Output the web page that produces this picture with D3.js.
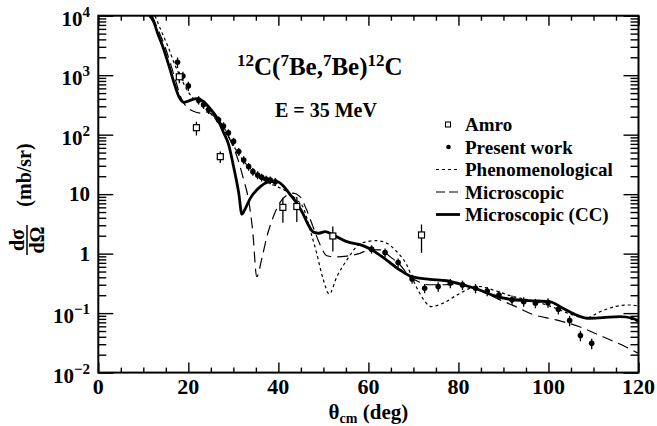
<!DOCTYPE html>
<html>
<head>
<meta charset="utf-8">
<script src="https://cdn.jsdelivr.net/npm/d3@7"></script>
<style>
  body { margin: 0; background: #fff; }
  svg { display: block; }
  text { font-family: "Liberation Serif", "Times New Roman", "DejaVu Serif", serif; font-weight: bold; fill: #000; }
</style>
</head>
<body>
<div id="chart"></div>
<script>
// --- Data ---
// Present work: [theta_cm, dsigma/dOmega, relative error]
const presentWork = [
  [17.6, 1650, 0.2], [18.8, 970, 0.18], [20.0, 660, 0.18], [22.3, 383, 0.16], [23.4, 322, 0.16],
  [24.5, 265, 0.16], [26.7, 177, 0.15], [27.8, 140, 0.15], [28.9, 107, 0.15], [30.05, 77, 0.15],
  [31.2, 52, 0.15], [32.3, 37.6, 0.15], [33.4, 29, 0.15], [34.35, 23.9, 0.15], [35.4, 21, 0.15],
  [36.3, 19.2, 0.15], [37.3, 17.8, 0.15], [38.2, 17.3, 0.15], [39.3, 16.2, 0.15],
  [60.7, 1.19, 0.16], [63.7, 1.04, 0.17], [66.6, 0.71, 0.17], [69.7, 0.376, 0.17], [72.5, 0.262, 0.18],
  [75.5, 0.279, 0.18], [78.2, 0.318, 0.18], [80.9, 0.298, 0.18], [83.8, 0.262, 0.18], [86.4, 0.234, 0.18],
  [89.0, 0.202, 0.18], [91.9, 0.167, 0.18], [94.5, 0.156, 0.18], [97.1, 0.147, 0.18], [99.9, 0.150, 0.18],
  [102.2, 0.116, 0.18], [104.7, 0.075, 0.2], [107.1, 0.042, 0.2], [109.6, 0.031, 0.2]
];

// Amro: [theta_cm, dsigma/dOmega, relative error]
const amro = [
  [18.0, 940, 0.22], [21.8, 131, 0.26], [27.1, 42.7, 0.22], [41.0, 6.0, 0.45],
  [44.1, 6.2, 0.45], [52.1, 1.98, 0.45], [71.8, 2.06, 0.5]
];

const phenomenological = [
  [12.6, 10000], [14, 5500], [15.5, 3000], [17, 1500], [18.5, 850], [20, 520], [21.5, 380], [23, 300],
  [24.5, 245], [26, 185], [27.5, 130], [29, 90], [30.8, 52], [32.3, 36], [33.75, 27], [35.2, 21],
  [36.7, 17.4], [38.2, 15], [39.7, 13.4], [41.9, 11], [44.1, 8], [45.6, 5.8], [47.05, 2.5], [48.5, 1.02],
  [50, 0.36], [51.3, 0.21], [53, 0.41], [55.2, 0.78], [57.4, 1.31], [59.6, 1.59], [61.8, 1.65], [64.05, 1.5],
  [66.3, 1.08], [68.5, 0.65], [69.95, 0.36], [71.4, 0.216], [74, 0.129], [76.6, 0.147], [79.6, 0.2],
  [82.5, 0.26], [84.7, 0.28], [87.7, 0.245], [90, 0.215], [92.1, 0.19], [95, 0.17], [98, 0.15],
  [100.5, 0.13], [102.5, 0.113], [105.4, 0.093], [108.4, 0.083], [111.4, 0.105], [115, 0.13],
  [118, 0.137], [120, 0.132]
];

const microscopic = [
  [12.0, 10000], [13, 6500], [14.5, 3500], [16, 1600], [17.2, 800], [18.3, 430], [19.5, 300], [21, 250],
  [22.7, 230], [24.3, 240], [25.8, 200], [27.8, 136], [29.3, 81], [30.8, 43], [32.3, 17.4], [33.4, 7.9],
  [34.3, 2.4], [35.2, 0.41], [36.35, 0.84], [37.45, 1.93], [38.9, 4.2], [40.5, 7.5], [41.9, 9.6],
  [43.3, 10.4], [44.8, 9.1], [46.3, 5.4], [47.8, 2.7], [49.3, 1.4], [50.75, 0.92], [52.5, 0.88],
  [55.2, 0.91], [58.1, 1.01], [60.35, 1.17], [62.6, 1.16], [64.8, 0.89], [67, 0.65], [69.2, 0.41],
  [71.4, 0.33], [73.65, 0.30], [77, 0.30], [80.3, 0.31], [83, 0.27], [86.2, 0.216], [89, 0.17],
  [92.1, 0.135], [96.5, 0.095], [101.7, 0.077], [106.9, 0.059], [112.1, 0.040], [117.2, 0.027], [120, 0.021]
];

const microscopicCC = [
  [11.4, 10000], [12.3, 7900], [13.2, 5000], [14.2, 3220], [15.65, 1480], [16.75, 776], [17.9, 435],
  [19, 350], [20.1, 370], [21.9, 405], [23.4, 360], [24.9, 270], [26.4, 190], [27.8, 110], [28.95, 68],
  [30.05, 29], [31.2, 10.4], [31.9, 4.6], [32.6, 5.6], [33.75, 8.5], [36, 13.4], [38.2, 16.2], [39.7, 16.2],
  [41, 14], [42.4, 10.3], [44, 7.2], [45.4, 4.8], [46.5, 3.2], [47.8, 2.3], [49, 2.2], [50.4, 2.35],
  [52.2, 2.06], [55.2, 1.59], [58.9, 1.35], [60.4, 1.2], [64.05, 0.78], [67, 0.53], [69.6, 0.41],
  [73.65, 0.37], [77.35, 0.35], [81, 0.30], [84.7, 0.245], [87, 0.208], [91.4, 0.171], [95.8, 0.162],
  [100.2, 0.156], [103.2, 0.121], [106.2, 0.093], [108.7, 0.082], [112.1, 0.084], [115.8, 0.087],
  [118.7, 0.082], [120, 0.072]
];

const xMajorTicks = [0, 20, 40, 60, 80, 100, 120];
const yDecades = [1e-2, 1e-1, 1, 10, 1e2, 1e3, 1e4];
// label text: [base, exponent] (exponent '' = plain)
const yTickLabels = [['10', '\u22122'], ['10', '\u22121'], ['1', ''], ['10', ''], ['10', '2'], ['10', '3'], ['10', '4']];

const legendItems = [
  { label: 'Amro', type: 'square' },
  { label: 'Present work', type: 'dot' },
  { label: 'Phenomenological', type: 'line', dash: '3,3', width: 1.2 },
  { label: 'Microscopic', type: 'line', dash: '9,4', width: 1.2 },
  { label: 'Microscopic (CC)', type: 'line', dash: null, width: 2.8 }
];

// --- Setup ---
const W = 657, H = 426;
const plot = { left: 98.3, right: 638.5, top: 15.7, bottom: 372.6 };
const FONT = '"Liberation Serif", "Times New Roman", "DejaVu Serif", serif';

const svg = d3.select('#chart').append('svg')
  .attr('width', W)
  .attr('height', H)
  .attr('font-family', FONT)
  .attr('font-weight', 'bold');

const x = d3.scaleLinear().domain([0, 120]).range([plot.left, plot.right]);
const y = d3.scaleLog().domain([1e-2, 1e4]).range([plot.bottom, plot.top]);

svg.append('clipPath').attr('id', 'clip')
  .append('rect')
  .attr('x', plot.left).attr('y', plot.top)
  .attr('width', plot.right - plot.left).attr('height', plot.bottom - plot.top);

// --- Axes (ticks inward on all four sides) ---
const xMinor = d3.range(0, 121, 5).filter(v => v % 20 !== 0);
const yMinor = [];
for (let e = -2; e < 4; e++) for (let m = 2; m <= 9; m++) yMinor.push(m * Math.pow(10, e));

function styleAxis(sel) {
  sel.select('.domain').remove();
  sel.selectAll('line').attr('stroke', '#000').attr('stroke-width', 1.4);
  sel.selectAll('text').remove();
}

svg.append('g').attr('transform', `translate(0,${plot.bottom})`)
  .call(d3.axisBottom(x).tickValues(xMajorTicks).tickSizeInner(-10).tickSizeOuter(0)).call(styleAxis);
svg.append('g').attr('transform', `translate(0,${plot.bottom})`)
  .call(d3.axisBottom(x).tickValues(xMinor).tickSizeInner(-5).tickSizeOuter(0)).call(styleAxis);
svg.append('g').attr('transform', `translate(0,${plot.top})`)
  .call(d3.axisTop(x).tickValues(xMajorTicks).tickSizeInner(-10).tickSizeOuter(0)).call(styleAxis);
svg.append('g').attr('transform', `translate(0,${plot.top})`)
  .call(d3.axisTop(x).tickValues(xMinor).tickSizeInner(-5).tickSizeOuter(0)).call(styleAxis);

svg.append('g').attr('transform', `translate(${plot.left},0)`)
  .call(d3.axisLeft(y).tickValues(yDecades).tickSizeInner(-15).tickSizeOuter(0)).call(styleAxis);
svg.append('g').attr('transform', `translate(${plot.left},0)`)
  .call(d3.axisLeft(y).tickValues(yMinor).tickSizeInner(-8).tickSizeOuter(0)).call(styleAxis);
svg.append('g').attr('transform', `translate(${plot.right},0)`)
  .call(d3.axisRight(y).tickValues(yDecades).tickSizeInner(-15).tickSizeOuter(0)).call(styleAxis);
svg.append('g').attr('transform', `translate(${plot.right},0)`)
  .call(d3.axisRight(y).tickValues(yMinor).tickSizeInner(-8).tickSizeOuter(0)).call(styleAxis);

// frame
svg.append('rect')
  .attr('x', plot.left).attr('y', plot.top)
  .attr('width', plot.right - plot.left).attr('height', plot.bottom - plot.top)
  .attr('fill', 'none').attr('stroke', '#000').attr('stroke-width', 2);

// tick labels
svg.append('g').selectAll('text')
  .data(xMajorTicks)
  .join('text')
  .attr('x', d => x(d))
  .attr('y', 394)
  .attr('text-anchor', 'middle')
  .style('font-size', '22px')
  .text(d => d);

const yLabelData = yDecades.map((v, i) => ({ v, base: yTickLabels[i][0], exp: yTickLabels[i][1] }));
const yLab = svg.append('g').selectAll('text')
  .data(yLabelData)
  .join('text')
  .attr('x', 90)
  .attr('y', d => y(d.v) + (d.exp ? 10 : 7))
  .attr('text-anchor', 'end')
  .style('font-size', '21px');
yLab.append('tspan').text(d => d.base);
yLab.filter(d => d.exp !== '')
  .append('tspan')
  .attr('dy', -9)
  .style('font-size', '15px')
  .text(d => d.exp);

// axis titles
const xt = svg.append('text')
  .attr('x', (plot.left + plot.right) / 2)
  .attr('y', 419)
  .attr('text-anchor', 'middle')
  .style('font-size', '21px');
xt.append('tspan').text('\u03b8');
xt.append('tspan').attr('dy', 4).style('font-size', '14px').text('cm');
xt.append('tspan').attr('dy', -4).text(' (deg)');

const yt = svg.append('g').attr('transform', 'translate(27,240) rotate(-90)');
yt.append('text').attr('x', 0).attr('y', -3).attr('text-anchor', 'middle').style('font-size', '20px').text('d\u03c3');
yt.append('line').attr('x1', -15).attr('x2', 15).attr('y1', 0).attr('y2', 0).attr('stroke', '#000').attr('stroke-width', 1.5);
yt.append('text').attr('x', 0).attr('y', 17).attr('text-anchor', 'middle').style('font-size', '20px').text('d\u03a9');
yt.append('text').attr('x', 65).attr('y', 4).attr('text-anchor', 'middle').style('font-size', '20px').text('(mb/sr)');

// --- Curves ---
const line = d3.line()
  .x(d => x(d[0]))
  .y(d => y(d[1]))
  .curve(d3.curveMonotoneX);

const curves = svg.append('g').attr('clip-path', 'url(#clip)');
curves.append('path').datum(phenomenological)
  .attr('d', line).attr('fill', 'none').attr('stroke', '#000')
  .attr('stroke-width', 1.2).attr('stroke-dasharray', '3,3');
curves.append('path').datum(microscopic)
  .attr('d', line).attr('fill', 'none').attr('stroke', '#000')
  .attr('stroke-width', 1.2).attr('stroke-dasharray', '11,6');
curves.append('path').datum(microscopicCC)
  .attr('d', line).attr('fill', 'none').attr('stroke', '#000')
  .attr('stroke-width', 2.8);

// --- Data points ---
const pts = svg.append('g');
pts.selectAll('.pw-err')
  .data(presentWork)
  .join('line')
  .attr('class', 'pw-err')
  .attr('x1', d => x(d[0])).attr('x2', d => x(d[0]))
  .attr('y1', d => y(d[1] * (1 + d[2]))).attr('y2', d => y(d[1] * (1 - d[2])))
  .attr('stroke', '#000').attr('stroke-width', 1.3);
pts.selectAll('.pw')
  .data(presentWork)
  .join('circle')
  .attr('class', 'pw')
  .attr('cx', d => x(d[0])).attr('cy', d => y(d[1]))
  .attr('r', 2.8).attr('fill', '#000');

pts.selectAll('.am-err')
  .data(amro)
  .join('line')
  .attr('class', 'am-err')
  .attr('x1', d => x(d[0])).attr('x2', d => x(d[0]))
  .attr('y1', d => y(d[1] * (1 + d[2]))).attr('y2', d => y(d[1] * (1 - d[2])))
  .attr('stroke', '#000').attr('stroke-width', 1.3);
pts.selectAll('.am')
  .data(amro)
  .join('rect')
  .attr('class', 'am')
  .attr('x', d => x(d[0]) - 3).attr('y', d => y(d[1]) - 3)
  .attr('width', 6).attr('height', 6)
  .attr('fill', '#fff').attr('stroke', '#000').attr('stroke-width', 1.2);

// --- Title texts ---
const title = svg.append('text').attr('x', 237).attr('y', 75).style('font-size', '25px');
const sup = (t) => title.append('tspan').attr('dy', -9).style('font-size', '17px').text(t);
const base = (t) => title.append('tspan').attr('dy', 9).text(t);
sup('12'); base('C('); sup('7'); base('Be,'); sup('7'); base('Be)'); sup('12'); base('C');

svg.append('text').attr('x', 275).attr('y', 117).style('font-size', '20px').text('E = 35 MeV');

// --- Legend ---
const leg = svg.append('g');
legendItems.forEach((d, i) => {
  const by = 131 + i * 22.5;
  const my = by - 6.5;
  if (d.type === 'square') {
    leg.append('rect').attr('x', 445.5).attr('y', my - 2.5).attr('width', 5).attr('height', 5)
      .attr('fill', '#fff').attr('stroke', '#000').attr('stroke-width', 1.1);
  } else if (d.type === 'dot') {
    leg.append('circle').attr('cx', 448.5).attr('cy', my).attr('r', 2.3).attr('fill', '#000');
  } else {
    leg.append('line').attr('x1', 436).attr('x2', 460).attr('y1', my).attr('y2', my)
      .attr('stroke', '#000').attr('stroke-width', d.width)
      .attr('stroke-dasharray', d.dash);
  }
  leg.append('text').attr('x', 465).attr('y', by).style('font-size', '19px').text(d.label);
});
</script>
</body>
</html>
